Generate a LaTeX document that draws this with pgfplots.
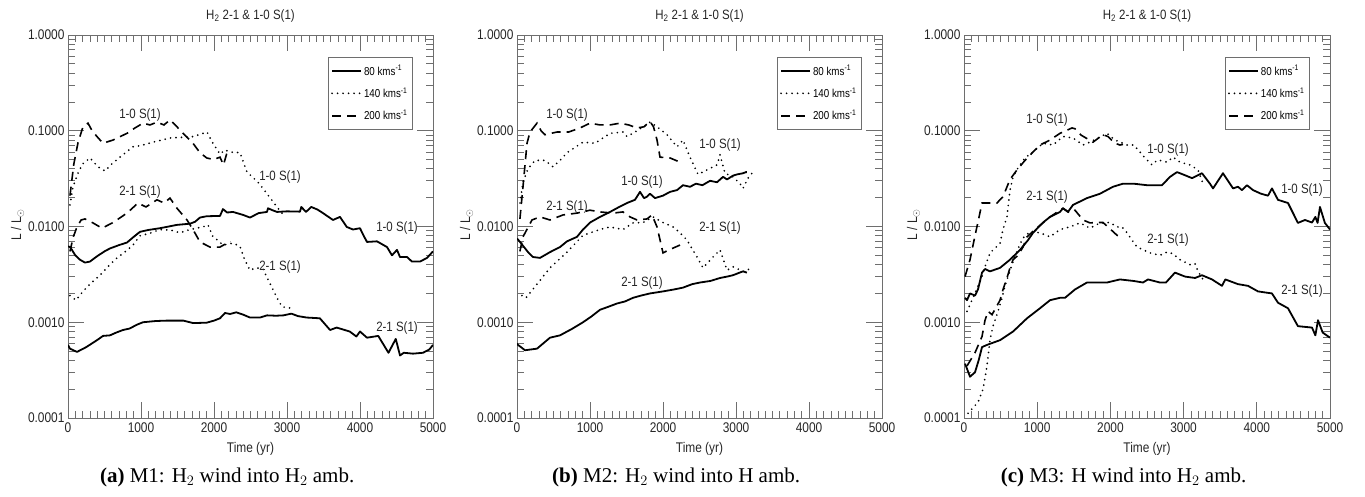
\documentclass[border=0pt]{standalone}
\usepackage{pgfplots}
\pgfplotsset{compat=1.18}
\usepackage{fontspec}
\setmainfont{Liberation Serif}
\newfontfamily\plotfont{Liberation Sans}[FakeStretch=0.85]
\definecolor{axgray}{RGB}{110,110,110}
\tikzset{
  sln/.style={black, line width=1.8pt, line join=round},
  dtl/.style={black, line width=1.9pt, dash pattern=on 0pt off 5.5pt, line cap=round},
  dsl/.style={black, line width=1.6pt, dash pattern=on 9pt off 6pt},
  lab/.style={font=\plotfont\fontsize{13.5}{13.5}\selectfont, black!85},
}
\pgfplotsset{
  myax/.style={
    scale only axis, height=383pt, anchor=south west,
    xmin=0, xmax=5000, ymin=1e-4, ymax=1,
    clip mode=individual,
    xtick={0,1000,2000,3000,4000,5000},
    xticklabels={0,1000,2000,3000,4000,5000},
    minor x tick num=9,
    ytick={0.0001,0.001,0.01,0.1,1},
    yticklabels={0.0001,0.0010,0.0100,0.1000,1.0000},
    minor ytick={2e-4,3e-4,4e-4,5e-4,6e-4,7e-4,8e-4,9e-4,2e-3,3e-3,4e-3,5e-3,6e-3,7e-3,8e-3,9e-3,2e-2,3e-2,4e-2,5e-2,6e-2,7e-2,8e-2,9e-2,0.2,0.3,0.4,0.5,0.6,0.7,0.8,0.9},
    tick align=inside, major tick length=16pt, minor tick length=7pt,
    tick style={color=axgray, line width=0.8pt},
    axis line style={axgray, line width=1pt},
    tick label style={font=\plotfont\fontsize{14}{14}\selectfont, black!85},
    xticklabel style={yshift=-1pt},
    title={H\textsubscript{2} 2-1 \& 1-0 S(1)},
    title style={font=\plotfont\fontsize{13.5}{13.5}\selectfont, black!85, at={(0.5,1)}, anchor=base, yshift=10pt},
    xlabel={Time (yr)},
    xlabel style={font=\plotfont\fontsize{14}{14}\selectfont, black!85, at={(axis description cs:0.5,0)}, anchor=base, yshift=-34pt},
    ylabel={L / L$_\odot$},
    ylabel style={font=\plotfont\fontsize{14}{14}\selectfont, black!85, at={(axis description cs:-0.138,0.505)}, anchor=center},
    legend cell align=left,
    legend image code/.code={\draw[##1] (0pt,0pt) -- (29pt,0pt);},
    legend style={at={(0.945,0.943)}, anchor=north east, draw=axgray, line width=0.8pt,
      font=\plotfont\fontsize{11.5}{11.5}\selectfont, row sep=7pt, inner xsep=3pt, inner ysep=6pt},
  }
}
\begin{document}
\begin{tikzpicture}
\useasboundingbox (0pt,0pt) rectangle (1365pt,497pt);
% ---------------- panel (a)
\begin{axis}[ymode=log, width=365pt, myax, at={(68pt,79pt)}]
\addlegendimage{sln}\addlegendentry{80 kms\textsuperscript{-1}}
\addlegendimage{dtl}\addlegendentry{140 kms\textsuperscript{-1}}
\addlegendimage{dsl}\addlegendentry{200 kms\textsuperscript{-1}}
\addplot[sln, forget plot] coordinates {(0,0.0062) (30,0.0061) (100,0.0050) (164,0.0045) (233,0.0042) (300,0.0043) (400,0.0049) (500,0.0055) (575,0.0059) (700,0.0064) (808,0.0068) (900,0.0078) (986,0.0088) (1100,0.0092) (1260,0.0096) (1350,0.0099) (1493,0.0104) (1671,0.0107) (1740,0.0112) (1808,0.0124) (1900,0.0128) (2082,0.0129) (2123,0.0152) (2180,0.0140) (2260,0.0142) (2400,0.0132) (2493,0.0124) (2612,0.0138) (2726,0.0142) (2740,0.0155) (2800,0.0148) (2863,0.0142) (3000,0.0144) (3178,0.0143) (3196,0.0160) (3260,0.0142) (3333,0.0160) (3420,0.0150) (3493,0.0138) (3630,0.0117) (3726,0.0126) (3818,0.0099) (3904,0.0093) (4000,0.0096) (4050,0.0080) (4096,0.0069) (4233,0.0070) (4370,0.0061) (4438,0.0050) (4507,0.0057) (4548,0.0048) (4644,0.0048) (4712,0.0043) (4822,0.0043) (4918,0.0047) (5000,0.0055)};
\addplot[sln, forget plot] coordinates {(0,0.00058) (27,0.00053) (123,0.00049) (250,0.00055) (397,0.00065) (480,0.00072) (575,0.00073) (660,0.00078) (753,0.00083) (845,0.00086) (940,0.00094) (1027,0.0010) (1200,0.00103) (1352,0.00104) (1580,0.00104) (1717,0.00098) (1900,0.00099) (2000,0.00104) (2082,0.0011) (2151,0.00125) (2220,0.00122) (2306,0.00127) (2400,0.00120) (2493,0.00112) (2630,0.00112) (2726,0.00118) (2850,0.00117) (2950,0.00118) (3060,0.00123) (3150,0.00116) (3270,0.00112) (3450,0.0011) (3590,0.00083) (3680,0.00088) (3860,0.0008) (3950,0.00071) (4000,0.0008) (4096,0.00069) (4250,0.00072) (4390,0.00048) (4490,0.00067) (4548,0.00045) (4600,0.00048) (4726,0.00047) (4863,0.00048) (4950,0.00052) (5000,0.00058)};
\addplot[dtl, forget plot] coordinates {(27,0.0168) (68,0.026) (137,0.036) (200,0.045) (301,0.052) (411,0.042) (507,0.038) (600,0.045) (712,0.053) (890,0.068) (1000,0.070) (1164,0.076) (1397,0.084) (1630,0.086) (1717,0.087) (1904,0.097) (1986,0.074) (2082,0.057) (2150,0.063) (2219,0.060) (2356,0.059) (2452,0.037) (2543,0.032) (2620,0.028) (2726,0.022) (2863,0.016) (2973,0.0126)};
\addplot[dtl, forget plot] coordinates {(27,0.0019) (110,0.0017) (205,0.0021) (300,0.0025) (438,0.0031) (560,0.0039) (671,0.0047) (790,0.0055) (890,0.0064) (986,0.0080) (1123,0.0085) (1260,0.0093) (1400,0.0092) (1534,0.0086) (1671,0.0093) (1849,0.0099) (1918,0.0104) (1986,0.0078) (2050,0.0072) (2123,0.0064) (2260,0.0067) (2356,0.0062) (2420,0.0045) (2493,0.0035) (2580,0.0037) (2671,0.0036) (2760,0.0026) (2863,0.0018) (2932,0.00145) (3041,0.00141)};
\addplot[dsl, forget plot] coordinates {(27,0.021) (80,0.045) (137,0.075) (205,0.11) (274,0.12) (330,0.10) (397,0.087) (480,0.074) (616,0.080) (808,0.094) (918,0.107) (1027,0.12) (1123,0.115) (1219,0.123) (1315,0.115) (1397,0.13) (1493,0.11) (1575,0.094) (1712,0.074) (1808,0.059) (1900,0.052) (1995,0.050) (2082,0.053) (2130,0.044) (2178,0.059) (2230,0.060)};
\addplot[dsl, forget plot] coordinates {(27,0.0055) (73,0.0078) (123,0.0099) (180,0.0117) (233,0.012) (342,0.0109) (466,0.0096) (616,0.011) (808,0.0138) (959,0.0176) (1068,0.016) (1219,0.019) (1315,0.0176) (1397,0.0198) (1493,0.0155) (1630,0.0117) (1712,0.0093) (1808,0.0069) (1945,0.0061) (2082,0.0061) (2178,0.0067) (2230,0.0069)};
\node[lab] at (axis cs:986,0.146) {1-0 S(1)};
\node[lab] at (axis cs:2904,0.0329) {1-0 S(1)};
\node[lab] at (axis cs:986,0.0229) {2-1 S(1)};
\node[lab] at (axis cs:4507,0.0097) {1-0 S(1)};
\node[lab] at (axis cs:2904,0.00378) {2-1 S(1)};
\node[lab] at (axis cs:4507,0.00087) {2-1 S(1)};
\node[font=\fontsize{21}{21}\selectfont] at (axis description cs:0.436,-0.155) {\textbf{(a)} M1: H$_2$ wind into H$_2$ amb.};
\end{axis}
% ---------------- panel (b)
\begin{axis}[ymode=log, width=365pt, myax, at={(517pt,79pt)}]
\addlegendimage{sln}\addlegendentry{80 kms\textsuperscript{-1}}
\addlegendimage{dtl}\addlegendentry{140 kms\textsuperscript{-1}}
\addlegendimage{dsl}\addlegendentry{200 kms\textsuperscript{-1}}
\addplot[sln, forget plot] coordinates {(0,0.0075) (41,0.0069) (96,0.0061) (160,0.0053) (219,0.0048) (315,0.0047) (452,0.0054) (589,0.0061) (685,0.0070) (822,0.0078) (904,0.0093) (1000,0.011) (1137,0.0126) (1274,0.0142) (1400,0.016) (1507,0.0176) (1616,0.019) (1685,0.023) (1740,0.0198) (1781,0.0205) (1822,0.022) (1890,0.0198) (2000,0.021) (2096,0.023) (2192,0.024) (2274,0.027) (2370,0.026) (2452,0.028) (2540,0.027) (2644,0.030) (2740,0.029) (2822,0.033) (2877,0.031) (2959,0.034) (3014,0.035) (3096,0.036) (3137,0.037) (3150,0.037)};
\addplot[sln, forget plot] coordinates {(0,0.00060) (14,0.00058) (110,0.00051) (274,0.00053) (452,0.00069) (589,0.00073) (750,0.00085) (904,0.0010) (1020,0.00115) (1137,0.00135) (1250,0.00145) (1370,0.00157) (1480,0.00165) (1589,0.0018) (1700,0.0019) (1822,0.0020) (2000,0.0021) (2150,0.0022) (2274,0.0023) (2400,0.0025) (2507,0.0026) (2650,0.0027) (2781,0.0029) (2880,0.0030) (2959,0.0031) (3050,0.0033) (3096,0.0034) (3150,0.0033)};
\addplot[dtl, forget plot] coordinates {(41,0.0176) (82,0.029) (150,0.040) (247,0.049) (384,0.049) (493,0.042) (600,0.050) (685,0.059) (904,0.076) (1068,0.074) (1274,0.094) (1452,0.097) (1507,0.087) (1644,0.10) (1822,0.123) (1918,0.11) (2055,0.091) (2192,0.068) (2274,0.080) (2370,0.053) (2480,0.035) (2603,0.039) (2740,0.044) (2781,0.056) (2849,0.036) (2959,0.033) (3055,0.028) (3096,0.025) (3164,0.032) (3219,0.036)};
\addplot[dtl, forget plot] coordinates {(68,0.0019) (123,0.0018) (274,0.0025) (452,0.0037) (685,0.0054) (904,0.0081) (1137,0.0093) (1274,0.0099) (1452,0.0093) (1589,0.0109) (1726,0.011) (1863,0.0126) (2000,0.011) (2137,0.0099) (2233,0.0086) (2329,0.0072) (2466,0.0048) (2548,0.0037) (2685,0.0048) (2781,0.0057) (2877,0.0035) (2959,0.0038) (3096,0.0034) (3233,0.0037)};
\addplot[dsl, forget plot] coordinates {(40,0.012) (82,0.026) (137,0.074) (178,0.097) (274,0.12) (330,0.10) (384,0.091) (548,0.097) (708,0.097) (863,0.107) (1000,0.12) (1137,0.115) (1274,0.115) (1411,0.12) (1530,0.115) (1644,0.107) (1740,0.11) (1822,0.125) (1870,0.11) (1918,0.080) (1959,0.053) (2096,0.052) (2233,0.047)};
\addplot[dsl, forget plot] coordinates {(40,0.0055) (82,0.0078) (205,0.0117) (315,0.0126) (452,0.0117) (630,0.0132) (822,0.0138) (1000,0.0148) (1137,0.0142) (1315,0.0138) (1452,0.0142) (1548,0.0126) (1644,0.0117) (1781,0.0120) (1849,0.0132) (1918,0.0099) (1960,0.0072) (2000,0.0053) (2082,0.0057) (2233,0.0064)};
\node[lab] at (axis cs:685,0.146) {1-0 S(1)};
\node[lab] at (axis cs:2781,0.071) {1-0 S(1)};
\node[lab] at (axis cs:1712,0.029) {1-0 S(1)};
\node[lab] at (axis cs:685,0.016) {2-1 S(1)};
\node[lab] at (axis cs:2781,0.0097) {2-1 S(1)};
\node[lab] at (axis cs:1712,0.0026) {2-1 S(1)};
\node[font=\fontsize{21}{21}\selectfont] at (axis description cs:0.436,-0.155) {\textbf{(b)} M2: H$_2$ wind into H amb.};
\end{axis}
% ---------------- panel (c)
\begin{axis}[ymode=log, width=366pt, myax, at={(964pt,79pt)}]
\addlegendimage{sln}\addlegendentry{80 kms\textsuperscript{-1}}
\addlegendimage{dtl}\addlegendentry{140 kms\textsuperscript{-1}}
\addlegendimage{dsl}\addlegendentry{200 kms\textsuperscript{-1}}
\addplot[sln, forget plot] coordinates {(14,0.0018) (41,0.0017) (82,0.0020) (150,0.0019) (191,0.0022) (246,0.0033) (287,0.0036) (355,0.0034) (492,0.0037) (628,0.0045) (765,0.0057) (874,0.0072) (943,0.0086) (1079,0.011) (1175,0.0126) (1311,0.0142) (1352,0.0155) (1420,0.0142) (1489,0.0168) (1680,0.0198) (1858,0.022) (2035,0.026) (2172,0.028) (2317,0.028) (2500,0.027) (2705,0.027) (2814,0.033) (2910,0.037) (2991,0.035) (3115,0.032) (3251,0.036) (3360,0.028) (3402,0.025) (3538,0.036) (3675,0.025) (3743,0.026) (3797,0.024) (3866,0.027) (3948,0.024) (4057,0.022) (4153,0.021) (4207,0.025) (4289,0.019) (4426,0.0176) (4562,0.0109) (4658,0.0117) (4754,0.011) (4800,0.0126) (4830,0.0109) (4863,0.016) (4930,0.0109) (5000,0.0093)};
\addplot[sln, forget plot] coordinates {(14,0.00037) (82,0.00027) (150,0.0003) (200,0.00040) (246,0.00055) (314,0.00058) (492,0.00065) (670,0.0008) (861,0.0011) (1038,0.0014) (1175,0.0017) (1311,0.0018) (1380,0.0018) (1516,0.0022) (1680,0.0026) (1953,0.0026) (2130,0.0028) (2317,0.0027) (2445,0.0026) (2514,0.0028) (2677,0.0026) (2759,0.0026) (2882,0.0033) (3019,0.0030) (3156,0.0029) (3251,0.0031) (3388,0.0028) (3524,0.0024) (3570,0.0028) (3743,0.0025) (3880,0.0024) (4016,0.0021) (4207,0.0020) (4289,0.0016) (4426,0.0014) (4562,0.00091) (4754,0.00088) (4800,0.00073) (4836,0.00105) (4900,0.00078) (5000,0.00069)};
\addplot[dtl, forget plot] coordinates {(41,0.0013) (150,0.0020) (246,0.0030) (287,0.0038) (355,0.0053) (430,0.0060) (492,0.0067) (533,0.0093) (587,0.0126) (628,0.024) (670,0.033) (738,0.041) (833,0.052) (943,0.060) (1079,0.074) (1216,0.071) (1352,0.087) (1489,0.084) (1626,0.071) (1721,0.076) (1953,0.094) (2063,0.080) (2227,0.071) (2317,0.071) (2404,0.060) (2473,0.052) (2568,0.044) (2636,0.049) (2677,0.049) (2773,0.047) (2855,0.053) (2950,0.047) (3087,0.044) (3197,0.039) (3265,0.028)};
\addplot[dtl, forget plot] coordinates {(55,0.000112) (191,0.000146) (260,0.0002) (314,0.00035) (355,0.00065) (396,0.00091) (465,0.0013) (519,0.0018) (560,0.0024) (601,0.0030) (700,0.0050) (800,0.0075) (900,0.0088) (1038,0.0086) (1175,0.0078) (1311,0.0093) (1448,0.0099) (1585,0.0109) (1721,0.0096) (1858,0.0109) (1994,0.011) (2090,0.0099) (2158,0.0099) (2227,0.0086) (2295,0.0072) (2363,0.0061) (2541,0.0053) (2677,0.005) (2773,0.0054) (2855,0.0052) (2950,0.0045) (3087,0.0040) (3155,0.0041) (3197,0.0034) (3292,0.0026)};
\addplot[dsl, forget plot] coordinates {(14,0.0030) (82,0.0045) (150,0.0080) (200,0.012) (246,0.0176) (287,0.0176) (450,0.0176) (533,0.0205) (628,0.031) (724,0.039) (833,0.049) (943,0.060) (1038,0.071) (1175,0.080) (1311,0.094) (1352,0.097) (1475,0.107) (1516,0.105) (1600,0.090) (1762,0.076) (1899,0.091) (1967,0.087) (2063,0.074) (2130,0.071) (2172,0.072)};
\addplot[dsl, forget plot] coordinates {(41,0.00035) (150,0.00048) (246,0.00071) (287,0.00105) (328,0.0013) (383,0.0012) (492,0.0017) (533,0.0022) (587,0.0029) (628,0.0037) (670,0.0045) (738,0.005) (806,0.0061) (861,0.0078) (970,0.0093) (1175,0.0126) (1311,0.0148) (1352,0.0155) (1448,0.0138) (1516,0.0148) (1626,0.0117) (1721,0.0109) (1800,0.011) (1899,0.011) (1967,0.0099) (2090,0.0081) (2158,0.0078)};
\node[lab] at (axis cs:1134,0.129) {1-0 S(1)};
\node[lab] at (axis cs:2787,0.063) {1-0 S(1)};
\node[lab] at (axis cs:1134,0.0205) {2-1 S(1)};
\node[lab] at (axis cs:4617,0.024) {1-0 S(1)};
\node[lab] at (axis cs:2787,0.0072) {2-1 S(1)};
\node[lab] at (axis cs:4617,0.0021) {2-1 S(1)};
\node[font=\fontsize{21}{21}\selectfont] at (axis description cs:0.436,-0.155) {\textbf{(c)} M3: H wind into H$_2$ amb.};
\end{axis}
\end{tikzpicture}
\end{document}
